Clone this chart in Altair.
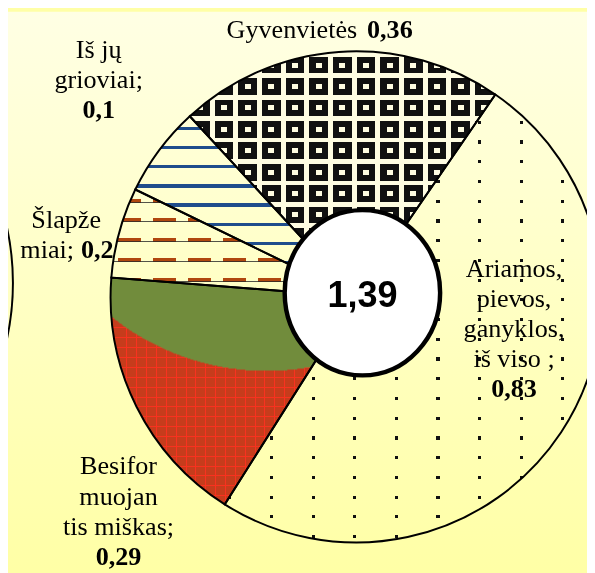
import math
import altair as alt
import pandas as pd

# ---------------- data ----------------
KEYS = ["gyv", "ari", "mis", "sla", "gri"]
CATEGORIES = ["Gyvenvietės", "Ariamos, pievos, ganyklos, iš viso",
              "Besiformuojantis miškas", "Šlapžemiai", "Iš jų grioviai"]
LABEL_VALUES = [0.36, 0.83, 0.29, 0.20, 0.10]
VALUE_TEXT = ["0,36", "0,83", "0,29", "0,2", "0,1"]
LABEL_LINES = [["Gyvenvietės"],
               ["Ariamos,", "pievos,", "ganyklos,", "iš viso ;"],
               ["Besifor", "muojan", "tis miškas;"],
               ["Šlapže", "miai;"],
               ["Iš jų", "grioviai;"]]
VALUE_INLINE = [True, False, False, True, False]
CENTER_TEXT = "1,39"

# the wetland slice is drawn without its ditches, which get their own slice
DRAWN = [LABEL_VALUES[0], LABEL_VALUES[1], LABEL_VALUES[2],
         round(LABEL_VALUES[3] - LABEL_VALUES[4], 6), LABEL_VALUES[4]]
TOTAL = round(sum(DRAWN), 6)
_ends = pd.Series(DRAWN).cumsum()
df = pd.DataFrame({"key": KEYS, "category": CATEGORIES, "value": DRAWN,
                   "start": (_ends - pd.Series(DRAWN)).round(6),
                   "end": _ends.round(6)})
one = pd.DataFrame({"k": [0]})

# ---------------- layout / style ----------------
W, H = 587, 565
CX, CY, R = 353, 289, 249
A0_DEG = 317.36
A0 = math.radians(A0_DEG)
TH = alt.Scale(domain=[0, TOTAL], range=[A0, A0 + 2 * math.pi])
SERIF = "Liberation Serif"
FS, LH = 26.5, 30.5
BG_TOP, BG_BOT = (255, 255, 228), (255, 255, 166)
TRANSP = "rgba(0,0,0,0)"
LIGHT = "#fffde2"


def hexc(rgb):
    return "#%02x%02x%02x" % tuple(int(round(c)) for c in rgb)


def bg(y):
    t = min(max(y / H, 0.0), 1.0)
    return hexc([a + (b - a) * t for a, b in zip(BG_TOP, BG_BOT)])


def _fn(c):
    return c if callable(c) else (lambda p: c)


def stripe_stops(lo, hi, period, phase, width, on, off):
    on, off = _fn(on), _fn(off)
    L = hi - lo
    pts = []
    cur = lo
    k = math.floor((lo - phase) / period) - 1
    while True:
        s = phase + k * period
        e = s + width
        if s >= hi:
            break
        if e > lo:
            s2, e2 = max(s, lo), min(e, hi)
            if s2 > cur:
                pts += [(cur, off(cur)), (s2, off(s2))]
            pts += [(s2, on(s2)), (e2, on(e2))]
            cur = e2
        k += 1
    if cur < hi:
        pts += [(cur, off(cur)), (hi, off(hi))]
    return [{"offset": round((p - lo) / L, 5), "color": c} for p, c in pts]


def lin(stops, axis):
    return {"gradient": "linear", "x1": 0, "y1": 0,
            "x2": 1 if axis == "x" else 0, "y2": 0 if axis == "x" else 1,
            "stops": stops}


def wedge_bbox(key):
    i = KEYS.index(key)
    v0, v1 = df.start[i], df.end[i]
    a0 = A0_DEG + v0 / TOTAL * 360
    a1 = A0_DEG + v1 / TOTAL * 360
    angs = [a0, a1] + [k * 90 for k in range(0, 9) if a0 < k * 90 < a1]
    xs = [CX] + [CX + R * math.sin(math.radians(a)) for a in angs]
    ys = [CY] + [CY - R * math.cos(math.radians(a)) for a in angs]
    return min(xs), max(xs), min(ys), max(ys)


def wedge(key, **mk):
    return (alt.Chart(df).transform_filter(alt.datum.key == key)
            .mark_arc(outerRadius=R, strokeWidth=0, **mk)
            .encode(theta=alt.Theta("start:Q", scale=TH), theta2=alt.Theta2("end:Q"),
                    x=alt.value(CX), y=alt.value(CY)))


layers = []

# background
layers.append(alt.Chart(one).mark_rect(
    fill=lin([{"offset": 0, "color": bg(0)}, {"offset": 1, "color": bg(H)}], "y"))
    .encode(x=alt.value(0), x2=alt.value(W), y=alt.value(0), y2=alt.value(H)))

# neighbouring pie edge at the left
layers.append(alt.Chart(one).mark_arc(outerRadius=265, fillOpacity=0, stroke="black", strokeWidth=2)
              .encode(x=alt.value(-260), y=alt.value(275),
                      theta=alt.value(0), theta2=alt.value(6.2832)))

# --- Gyvenvietės: ring grid pattern
x0, x1, y0, y1 = wedge_bbox("gyv")
GX, GPX, GY, GPY = 315, 24, 54, 21.7
layers += [
    wedge("gyv", fill=lin(stripe_stops(x0, x1, GPX, GX - 3, 6, LIGHT, "#111"), "x")),
    wedge("gyv", blend="darken", fill=lin(stripe_stops(y0, y1, GPY, GY - 2.5, 5, LIGHT, "#111"), "y")),
    wedge("gyv", blend="lighten", fill=lin(stripe_stops(x0, x1, GPX, GX - 9.5, 19, "#111", LIGHT), "x")),
    wedge("gyv", blend="lighten", fill=lin(stripe_stops(y0, y1, GPY, GY - 8.5, 17, "#111", LIGHT), "y")),
]

# --- Ariamos: dotted pattern
x0, x1, y0, y1 = wedge_bbox("ari")
layers += [
    wedge("ari", fill=lin(stripe_stops(x0, x1, 42.2, 265.5, 3.2, "#111", TRANSP), "x")),
    wedge("ari", blend="lighten", fill=lin(stripe_stops(y0, y1, 20, 150.4, 3.2, "#000", bg), "y")),
]

# --- Besiformuojantis miškas: red hatch with green top part
x0, x1, y0, y1 = wedge_bbox("mis")
bw, bh = x1 - x0, y1 - y0
s = max(bw, bh)
gcx, gcy, gr = 262, 112, 252
u = (gcx - x0 - (bw - s) / 2) / s
v = (gcy - y0 - (bh - s) / 2) / s
r2 = gr * 1.5 / s
layers += [
    wedge("mis", fill="#c63c1c"),
    wedge("mis", fill=lin(stripe_stops(x0, x1, 10, 100, 1, "#f8321f", TRANSP), "x")),
    wedge("mis", fill=lin(stripe_stops(y0, y1, 10, 270, 1, "#f8321f", TRANSP), "y")),
    wedge("mis", fill={"gradient": "radial", "x1": u, "y1": v, "r1": 0,
                       "x2": u, "y2": v, "r2": r2,
                       "stops": [{"offset": 0, "color": "#718c3c"},
                                 {"offset": 0.6667, "color": "#718c3c"},
                                 {"offset": 0.6667, "color": TRANSP},
                                 {"offset": 1, "color": TRANSP}]}),
]

# --- Šlapžemiai: dashed brown lines
x0, x1, y0, y1 = wedge_bbox("sla")
layers += [
    wedge("sla", fill=lin(stripe_stops(x0, x1, 35.5, 147, 23, "#b0470f", TRANSP), "x")),
    wedge("sla", blend="lighten", fill=lin(stripe_stops(y0, y1, 20, 189.5, 4, "#000", bg), "y")),
    wedge("sla", fill=lin(stripe_stops(y0, y1, 20, 192.5, 1, "rgba(40,40,40,0.8)", TRANSP), "y")),
]

# --- Iš jų grioviai: blue horizontal stripes
x0, x1, y0, y1 = wedge_bbox("gri")
layers += [
    wedge("gri", fill=lin(stripe_stops(y0, y1, 19.5, 155.25, 3.5, "#1f4d8c", TRANSP), "y")),
]

# outlines
layers.append(alt.Chart(df).mark_arc(outerRadius=R, fillOpacity=0, stroke="black", strokeWidth=2)
              .encode(theta=alt.Theta("start:Q", scale=TH), theta2=alt.Theta2("end:Q"),
                      x=alt.value(CX), y=alt.value(CY)))

# ---------------- labels ----------------
LABEL_POS = {"gyv": (261, 24.5, -1.7), "ari": (122, 58.2, -87.7),
             "mis": (296, 23.8, 47.6), "sla": (302, -2.6, 9.2),
             "gri": (354, 23.0, -30.7)}
SPLIT = {"gyv": (-5, 5), "sla": (8, 15)}


def label(key, text, weight, align, dx, dy):
    lr = LABEL_POS[key][0]
    return (alt.Chart(df).transform_filter(alt.datum.key == key)
            .transform_calculate(mid="(datum.start + datum.end) / 2")
            .mark_text(font=SERIF, fontSize=FS, fontWeight=weight, align=align,
                       baseline="alphabetic", lineBreak="\n", lineHeight=LH,
                       dx=dx, dy=dy, color="black")
            .encode(theta=alt.Theta("mid:Q", scale=TH), radius=alt.value(lr),
                    x=alt.value(CX), y=alt.value(CY), text=alt.value(text)))


for i, key in enumerate(KEYS):
    _, dx, dy = LABEL_POS[key]
    lines = LABEL_LINES[i]
    n = len(lines)
    if VALUE_INLINE[i]:
        if n > 1:
            layers.append(label(key, "\n".join(lines[:-1]), "normal", "center", dx, dy))
        sl, sr = SPLIT[key]
        layers.append(label(key, lines[-1], "normal", "right", dx + sl, dy + (n - 1) * LH))
        layers.append(label(key, VALUE_TEXT[i], "bold", "left", dx + sr, dy + (n - 1) * LH))
    else:
        layers.append(label(key, "\n".join(lines), "normal", "center", dx, dy))
        layers.append(label(key, VALUE_TEXT[i], "bold", "center", dx, dy + n * LH))

# center total
ELLIPSE = "M-1,0A1,1.063,0,1,1,1,0A1,1.063,0,1,1,-1,0Z"
layers.append(alt.Chart(one).mark_point(shape=ELLIPSE, size=(2 * 78.8) ** 2, filled=True,
                                        fill="white", stroke="black", strokeWidth=4.5,
                                        opacity=1, fillOpacity=1)
              .encode(x=alt.value(359.3), y=alt.value(284.8)))
layers.append(alt.Chart(one).mark_text(font="Liberation Sans", fontWeight="bold", fontSize=36.5,
                                       align="center", baseline="alphabetic", color="black")
              .encode(x=alt.value(359.5), y=alt.value(299), text=alt.value(CENTER_TEXT)))

chart = (alt.layer(*layers)
         .properties(width=W, height=H, padding=0,
                     autosize=alt.AutoSizeParams(type="none"), background=bg(H))
         .configure_view(strokeWidth=0))

chart.save("out.html", embed_options={"renderer": "svg", "actions": False})
